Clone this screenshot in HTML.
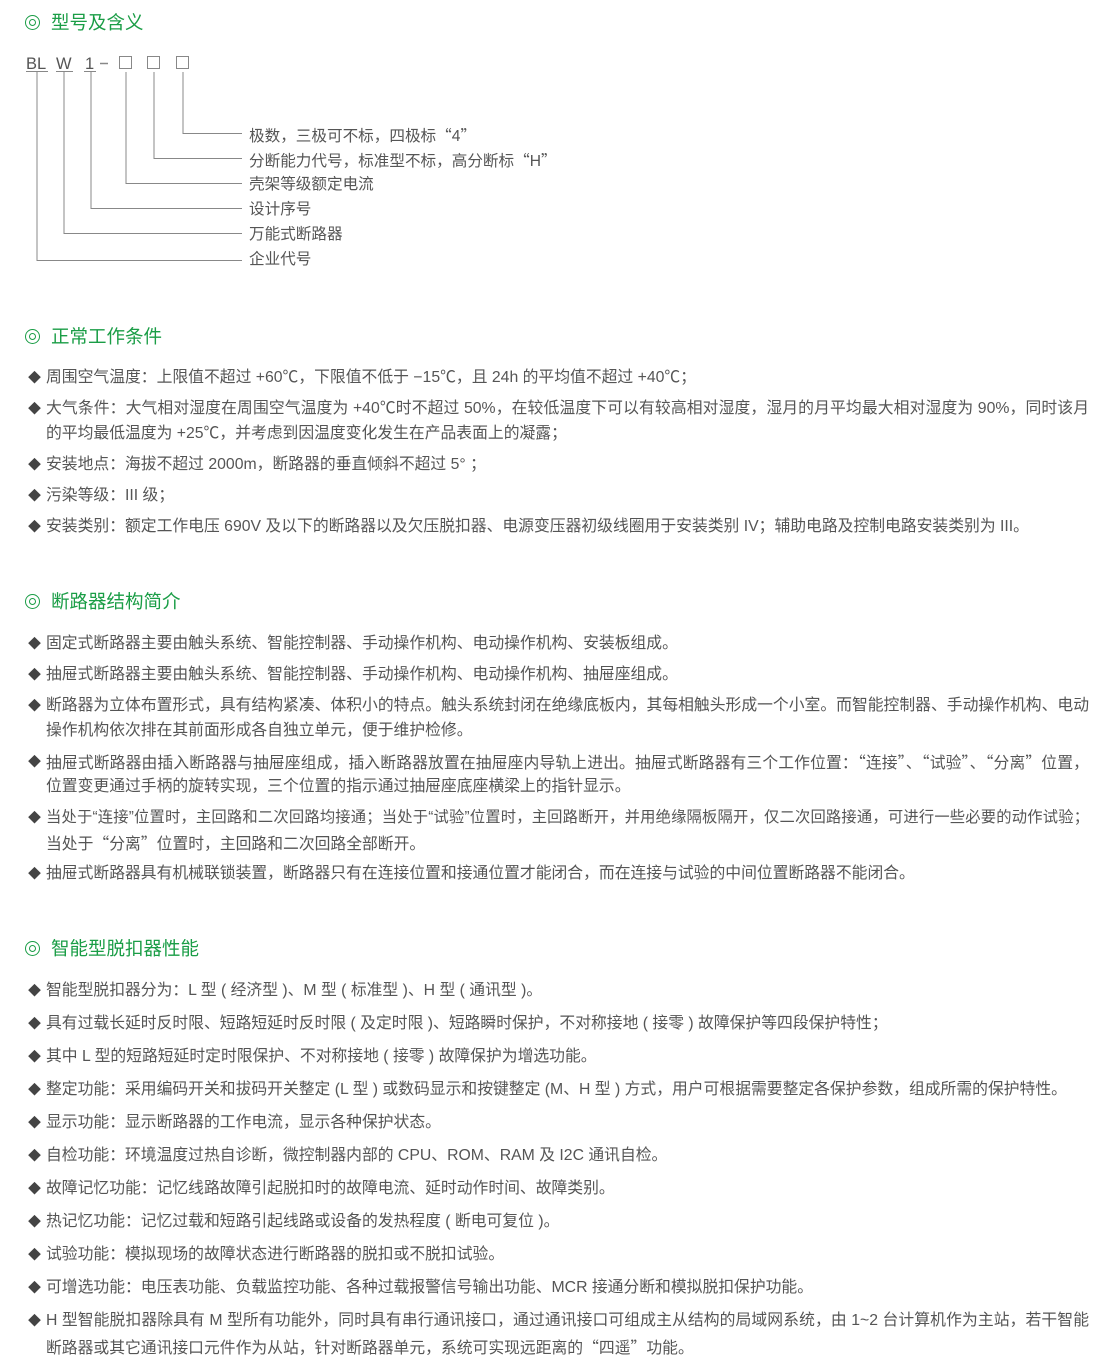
<!DOCTYPE html>
<html><head><meta charset="utf-8"><style>
body{margin:0;width:1115px;height:1366px;background:#fff;position:relative;overflow:hidden;font-family:"Liberation Sans","Noto Sans CJK SC",sans-serif;color:#555;}
body>div{margin-top:2px}
.h{position:absolute;left:25px;font-size:18.5px;color:#1a9d46;line-height:24px;white-space:nowrap}
.h span{display:inline-block;width:15px;height:15px;border:1.6px solid #1a9d46;border-radius:50%;box-sizing:border-box;position:relative;vertical-align:-1px;margin-right:11px}
.h span:after{content:"";position:absolute;left:2.5px;top:2.5px;width:7px;height:7px;border:1.6px solid #1a9d46;border-radius:50%;box-sizing:border-box}
.l{position:absolute;left:46px;font-size:15.8px;line-height:20px;white-space:nowrap}
.j{width:1043px;text-align:justify;text-align-last:justify}
.b{position:absolute;left:28px;font-size:13px;line-height:20px;color:#444}
.t{position:absolute;left:249px;font-size:15.6px;line-height:20px;white-space:nowrap}
.q{font-family:"Noto Sans CJK SC",sans-serif;font-feature-settings:"fwid"}
</style></head><body>
<div class="h" style="top:9px"><span></span>型号及含义</div>
<svg style="position:absolute;left:0;top:0" width="300" height="280">
<g fill="none" stroke="#888" stroke-width="1">
<path d="M37 72V260.5H242M64 72V233.5H242M91 72V208.5H242M126 72V183.5H242M154 72V158.5H242M183 72V133.5H242"/>
<path d="M26 71.5H48M56 71.5H73M84 71.5H96"/>
<rect x="119.5" y="56.5" width="12" height="12"/><rect x="147.5" y="56.5" width="12" height="12"/><rect x="176.5" y="56.5" width="12" height="12"/>
<path d="M100 63.5H108" stroke-width="1.5"/>
</g>
<g font-family="Liberation Sans" font-size="16.5" fill="#555"><text x="26" y="69">BL</text><text x="56" y="69">W</text><text x="85" y="69">1</text></g>
</svg>
<div class="t" style="top:123px">极数，三极可不标，四极标<span class="q">“</span>4<span class="q">”</span></div>
<div class="t" style="top:148px">分断能力代号，标准型不标，高分断标<span class="q">“</span>H<span class="q">”</span></div>
<div class="t" style="top:173px">壳架等级额定电流</div>
<div class="t" style="top:198px">设计序号</div>
<div class="t" style="top:223px">万能式断路器</div>
<div class="t" style="top:248px">企业代号</div>

<div class="h" style="top:323px"><span></span>正常工作条件</div>
<div class="b" style="top:366px">◆</div><div class="l" style="top:366px">周围空气温度：上限值不超过 +60℃，下限值不低于 −15℃，且 24h 的平均值不超过 +40℃；</div>
<div class="b" style="top:397px">◆</div><div class="l j" style="top:397px">大气条件：大气相对湿度在周围空气温度为 +40℃时不超过 50%，在较低温度下可以有较高相对湿度，湿月的月平均最大相对湿度为 90%，同时该月</div>
<div class="l" style="top:422px">的平均最低温度为 +25℃，并考虑到因温度变化发生在产品表面上的凝露；</div>
<div class="b" style="top:453px">◆</div><div class="l" style="top:453px">安装地点：海拔不超过 2000m，断路器的垂直倾斜不超过 5° ；</div>
<div class="b" style="top:484px">◆</div><div class="l" style="top:484px">污染等级：III 级；</div>
<div class="b" style="top:515px">◆</div><div class="l" style="top:515px">安装类别：额定工作电压 690V 及以下的断路器以及欠压脱扣器、电源变压器初级线圈用于安装类别 IV；辅助电路及控制电路安装类别为 III。</div>

<div class="h" style="top:588px"><span></span>断路器结构简介</div>
<div class="b" style="top:632px">◆</div><div class="l" style="top:632px">固定式断路器主要由触头系统、智能控制器、手动操作机构、电动操作机构、安装板组成。</div>
<div class="b" style="top:663px">◆</div><div class="l" style="top:663px">抽屉式断路器主要由触头系统、智能控制器、手动操作机构、电动操作机构、抽屉座组成。</div>
<div class="b" style="top:694px">◆</div><div class="l j" style="top:694px">断路器为立体布置形式，具有结构紧凑、体积小的特点。触头系统封闭在绝缘底板内，其每相触头形成一个小室。而智能控制器、手动操作机构、电动</div>
<div class="l" style="top:719px">操作机构依次排在其前面形成各自独立单元，便于维护检修。</div>
<div class="b" style="top:750px">◆</div><div class="l j" style="top:750px">抽屉式断路器由插入断路器与抽屉座组成，插入断路器放置在抽屉座内导轨上进出。抽屉式断路器有三个工作位置：<span class="q">“</span>连接<span class="q">”</span>、<span class="q">“</span>试验<span class="q">”</span>、<span class="q">“</span>分离<span class="q">”</span>位置，</div>
<div class="l" style="top:775px">位置变更通过手柄的旋转实现，三个位置的指示通过抽屉座底座横梁上的指针显示。</div>
<div class="b" style="top:806px">◆</div><div class="l j" style="top:806px;font-size:15.3px">当处于“连接”位置时，主回路和二次回路均接通；当处于“试验”位置时，主回路断开，并用绝缘隔板隔开，仅二次回路接通，可进行一些必要的动作试验；</div>
<div class="l" style="top:831px">当处于<span class="q">“</span>分离<span class="q">”</span>位置时，主回路和二次回路全部断开。</div>
<div class="b" style="top:862px">◆</div><div class="l" style="top:862px">抽屉式断路器具有机械联锁装置，断路器只有在连接位置和接通位置才能闭合，而在连接与试验的中间位置断路器不能闭合。</div>

<div class="h" style="top:935px"><span></span>智能型脱扣器性能</div>
<div class="b" style="top:979px">◆</div><div class="l" style="top:979px">智能型脱扣器分为：L 型 ( 经济型 )、M 型 ( 标准型 )、H 型 ( 通讯型 )。</div>
<div class="b" style="top:1012px">◆</div><div class="l" style="top:1012px">具有过载长延时反时限、短路短延时反时限 ( 及定时限 )、短路瞬时保护，不对称接地 ( 接零 ) 故障保护等四段保护特性；</div>
<div class="b" style="top:1045px">◆</div><div class="l" style="top:1045px">其中 L 型的短路短延时定时限保护、不对称接地 ( 接零 ) 故障保护为增选功能。</div>
<div class="b" style="top:1078px">◆</div><div class="l" style="top:1078px">整定功能：采用编码开关和拔码开关整定 (L 型 ) 或数码显示和按键整定 (M、H 型 ) 方式，用户可根据需要整定各保护参数，组成所需的保护特性。</div>
<div class="b" style="top:1111px">◆</div><div class="l" style="top:1111px">显示功能：显示断路器的工作电流，显示各种保护状态。</div>
<div class="b" style="top:1144px">◆</div><div class="l" style="top:1144px">自检功能：环境温度过热自诊断，微控制器内部的 CPU、ROM、RAM 及 I2C 通讯自检。</div>
<div class="b" style="top:1177px">◆</div><div class="l" style="top:1177px">故障记忆功能：记忆线路故障引起脱扣时的故障电流、延时动作时间、故障类别。</div>
<div class="b" style="top:1210px">◆</div><div class="l" style="top:1210px">热记忆功能：记忆过载和短路引起线路或设备的发热程度 ( 断电可复位 )。</div>
<div class="b" style="top:1243px">◆</div><div class="l" style="top:1243px">试验功能：模拟现场的故障状态进行断路器的脱扣或不脱扣试验。</div>
<div class="b" style="top:1276px">◆</div><div class="l" style="top:1276px">可增选功能：电压表功能、负载监控功能、各种过载报警信号输出功能、MCR 接通分断和模拟脱扣保护功能。</div>
<div class="b" style="top:1309px">◆</div><div class="l j" style="top:1309px">H 型智能脱扣器除具有 M 型所有功能外，同时具有串行通讯接口，通过通讯接口可组成主从结构的局域网系统，由 1~2 台计算机作为主站，若干智能</div>
<div class="l" style="top:1335px">断路器或其它通讯接口元件作为从站，针对断路器单元，系统可实现远距离的<span class="q">“</span>四遥<span class="q">”</span>功能。</div>
</body></html>
